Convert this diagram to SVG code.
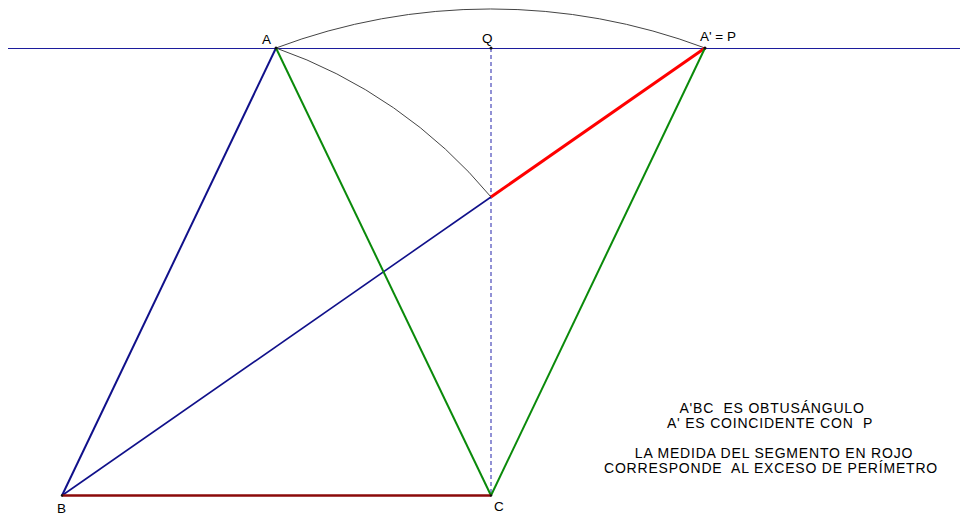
<svg xmlns="http://www.w3.org/2000/svg" width="960" height="518" viewBox="0 0 960 518">
<style>
.lbl{font-family:"Liberation Sans",Arial,sans-serif;font-size:13.5px;fill:#000}
.note{font-family:"Liberation Sans",Arial,sans-serif;font-size:14px;fill:#000;text-anchor:middle;letter-spacing:0.8px;white-space:pre}
.arc{fill:none;stroke:#444;stroke-width:1}
.pt{fill:#111}
</style>
<rect width="960" height="518" fill="#fff"/>
<g id="connectors">
<line x1="8" y1="48.5" x2="960" y2="48.5" stroke="#1c1c9c" stroke-width="1"/>
<line x1="491" y1="48" x2="491" y2="495.5" stroke="#6e6ec8" stroke-width="1.5" stroke-dasharray="4,3"/>
<path class="arc" d="M276,48 A609,609 0 0 1 705,48"/>
<path class="arc" d="M276,48 A489,489 0 0 1 491,197"/>
<line x1="62" y1="495.5" x2="276" y2="48" stroke="#10108a" stroke-width="2"/>
<line x1="62" y1="495.5" x2="491" y2="197" stroke="#10108a" stroke-width="1.6"/>
<line x1="491" y1="197" x2="705" y2="48" stroke="#ff0000" stroke-width="3"/>
<line x1="276" y1="48" x2="491" y2="495.5" stroke="#0a8a0a" stroke-width="2"/>
<line x1="705" y1="48" x2="491" y2="495.5" stroke="#0a8a0a" stroke-width="2"/>
<line x1="62" y1="495.5" x2="491" y2="495.5" stroke="#8b0a0a" stroke-width="2.5"/>
</g>
<g id="A"><circle class="pt" cx="276" cy="48" r="1.5"/><text class="lbl" x="262" y="44">A</text></g>
<g id="Q"><circle class="pt" cx="491" cy="48" r="1.5"/><text class="lbl" x="482" y="43">Q</text></g>
<g id="P"><circle class="pt" cx="705" cy="48" r="1.5"/><text class="lbl" x="700" y="41">A' = P</text></g>
<g id="B"><circle class="pt" cx="62" cy="495.5" r="1.2"/><text class="lbl" x="57" y="513">B</text></g>
<g id="C"><circle class="pt" cx="491" cy="495.5" r="1.2"/><text class="lbl" x="494" y="511">C</text></g>
<g id="notes" xml:space="preserve">
<text class="note" x="772" y="413">A'BC  ES OBTUSÁNGULO</text>
<text class="note" x="770" y="428">A' ES COINCIDENTE CON  P</text>
<text class="note" x="774" y="458">LA MEDIDA DEL SEGMENTO EN ROJO</text>
<text class="note" x="771" y="473">CORRESPONDE  AL EXCESO DE PERÍMETRO</text>
</g>
</svg>
